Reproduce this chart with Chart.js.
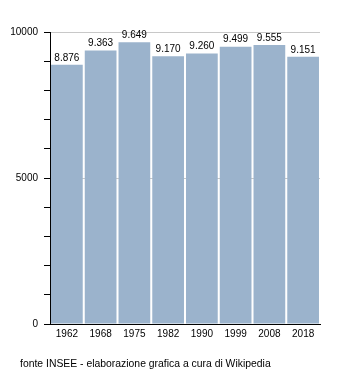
<!DOCTYPE html>
<html>
<head>
<meta charset="utf-8">
<script src="https://cdn.jsdelivr.net/npm/chart.js@4"></script>
<style>
  body { margin: 0; background: #fff; }
  #wrap { width: 350px; height: 373px; }
</style>
</head>
<body>
<div id="wrap"><canvas id="grafico" width="350" height="373"></canvas></div>
<script>
// dati
const anni = ['1962', '1968', '1975', '1982', '1990', '1999', '2008', '2018'];
const abitanti = [8876, 9363, 9649, 9170, 9260, 9499, 9555, 9151];
const etichetteY = [0, 5000, 10000];
const fonte = 'fonte INSEE - elaborazione grafica a cura di Wikipedia';

const coloreBarre = '#9bb3cc';
const carattere = "'Liberation Sans', Arial, sans-serif";

// numeri col punto delle migliaia
function formatta(n) {
  return String(n).replace(/\B(?=(\d{3})+(?!\d))/g, '.');
}

// etichette sopra le barre + nota della fonte in basso
const etichetteBarre = {
  id: 'etichetteBarre',
  afterDatasetsDraw(chart) {
    const ctx = chart.ctx;
    const meta = chart.getDatasetMeta(0);
    ctx.save();
    ctx.font = '10px ' + carattere;
    ctx.fillStyle = '#000';
    ctx.textAlign = 'center';
    ctx.textBaseline = 'bottom';
    meta.data.forEach((barra, i) => {
      ctx.fillText(formatta(abitanti[i]), barra.x, barra.y - 2);
    });
    ctx.font = '10.4px ' + carattere;
    ctx.textAlign = 'left';
    ctx.textBaseline = 'middle';
    ctx.fillText(fonte, 20, chart.chartArea.bottom + 40);
    ctx.restore();
  }
};

new Chart(document.getElementById('grafico'), {
  type: 'bar',
  data: {
    labels: anni,
    datasets: [{
      data: abitanti,
      backgroundColor: coloreBarre,
      borderWidth: 0,
      barPercentage: 0.94,
      categoryPercentage: 1
    }]
  },
  options: {
    responsive: false,
    animation: false,
    layout: { padding: { left: 0, right: 30, top: 32, bottom: 29 } },
    plugins: {
      legend: { display: false },
      tooltip: { enabled: false }
    },
    scales: {
      x: {
        afterFit(scale) { scale.height = 20; },
        grid: { display: false, drawTicks: false },
        border: { color: '#000', width: 1 },
        ticks: {
          color: '#000',
          font: { family: carattere, size: 10 },
          padding: 4,
          maxRotation: 0
        }
      },
      y: {
        min: 0,
        max: 10000,
        afterFit(scale) { scale.width = 50; },
        border: { color: '#000', width: 1 },
        grid: {
          color: c => (c.tick && c.tick.value % 5000 === 0 && c.tick.value > 0) ? '#c8c8c8' : 'rgba(0,0,0,0)',
          tickColor: '#000',
          tickLength: 6,
          drawOnChartArea: true
        },
        ticks: {
          stepSize: 1000,
          autoSkip: false,
          color: '#000',
          font: { family: carattere, size: 10 },
          padding: 6,
          callback: v => etichetteY.includes(v) ? String(v) : ''
        }
      }
    }
  },
  plugins: [etichetteBarre]
});
</script>
</body>
</html>
